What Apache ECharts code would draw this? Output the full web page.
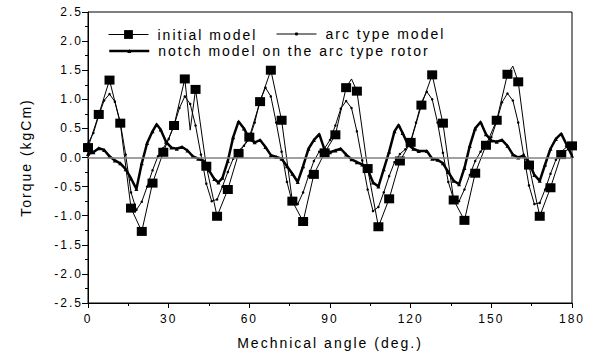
<!DOCTYPE html>
<html>
<head>
  <meta charset="utf-8" />
  <title>torque chart</title>
  <style>
    html, body { margin: 0; padding: 0; background: #fff; }
    #main { width: 598px; height: 356px; letter-spacing: 2px; }
  </style>
</head>
<body>
  <div id="main"></div>
  <script src="https://cdn.jsdelivr.net/npm/echarts@6/dist/echarts.min.js"></script>
  <script>
    var seriesNames = ['initial model', 'arc type model', 'notch model on the arc type rotor'];
    var xTicks = [0, 30, 60, 90, 120, 150, 180];

    // initial model: [angle, torque]
    var initData = [
      [0,0.17],[4,0.74],[8,1.33],[12,0.59],[16,-0.87],[20,-1.27],[24,-0.44],[28,0.09],
      [32,0.55],[36,1.35],[38,0.47],[40,1.17],[44,-0.15],[48,-1.01],[52,-0.55],[56,0.07],
      [60,0.35],[64,0.96],[68,1.50],[72,0.64],[76,-0.75],[80,-1.10],[84,-0.29],[88,0.08],
      [92,0.39],[96,1.20],[98,1.35],[100,1.14],[104,-0.19],[108,-1.19],[112,-0.71],[116,-0.06],
      [120,0.26],[124,0.90],[128,1.42],[132,0.59],[136,-0.73],[140,-1.08],[144,-0.27],[148,0.21],
      [152,0.64],[156,1.43],[158,1.57],[160,1.30],[164,-0.13],[168,-1.01],[172,-0.52],[176,0.05],
      [180,0.20]
    ];
    // points of the initial model drawn without a square
    var noMarkAt = [38, 98, 158];

    var arcData = [
      [0,0.24],[2,0.42],[4,0.72],[6,0.98],[8,1.09],[10,0.96],[12,0.6],[14,0.05],[16,-0.6],[18,-0.9],
      [20,-0.76],[22,-0.5],[24,-0.22],[26,0.02],[28,0.16],[30,0.32],
      [32,0.55],[34,0.85],[36,1.05],[38,0.92],[40,0.55],[42,0.05],[44,-0.45],[46,-0.75],[48,-0.72],
      [50,-0.5],[52,-0.25],[54,-0.02],[56,0.12],[58,0.2],[60,0.32],
      [62,0.6],[64,0.98],[66,1.2],[68,1.05],[70,0.6],[72,0.1],[74,-0.42],[76,-0.78],[78,-0.8],
      [80,-0.6],[82,-0.32],[84,-0.06],[86,0.1],[88,0.16],[90,0.3],
      [92,0.55],[94,0.84],[96,0.97],[98,0.85],[100,0.45],[102,-0.05],[104,-0.55],[106,-0.92],[108,-0.85],
      [110,-0.6],[112,-0.32],[114,-0.08],[116,0.06],[118,0.14],[120,0.28],
      [122,0.6],[124,0.95],[126,1.13],[128,1.0],[130,0.6],[132,0.08],[134,-0.42],[136,-0.72],[138,-0.75],
      [140,-0.55],[142,-0.3],[144,-0.06],[146,0.1],[148,0.2],[150,0.35],
      [152,0.62],[154,0.95],[156,1.1],[158,0.98],[160,0.6],[162,0.05],[164,-0.48],[166,-0.8],[168,-0.78],
      [170,-0.55],[172,-0.28],[174,-0.04],[176,0.1],[178,0.18],[180,0.24]
    ];

    var notchData = [
      [0,0.06],[2,0.09],[4,0.16],[6,0.13],[8,0.02],[10,-0.05],[12,-0.1],[14,-0.2],[16,-0.36],[18,-0.54],
      [20,-0.1],[22,0.25],[24,0.45],[25.5,0.57],[27,0.48],[29,0.27],[31,0.17],[33,0.15],[35,0.18],[37,0.12],
      [39,0.02],[41,-0.02],[43,-0.06],[45,-0.22],[47,-0.37],[48.5,-0.43],[50,-0.35],[52,-0.06],[54,0.35],[56,0.62],
      [58,0.5],[60,0.32],[62,0.26],[64,0.3],[66,0.18],[68,0.04],[70,0.01],[72,-0.02],[74,-0.15],[76,-0.28],
      [78,-0.42],[80,-0.15],[82,0.15],[84,0.3],[86,0.4],[88,0.13],[90,0.09],[92,0.12],[94,0.15],[96,0.05],
      [98,-0.03],[100,-0.08],[102,-0.12],[104,-0.2],[106,-0.43],[108,-0.5],[110,-0.2],[112,0.1],[114,0.45],[115.5,0.56],
      [117,0.42],[119,0.22],[121,0.15],[123,0.11],[126,0.11],[128,-0.02],[130,-0.04],[132,-0.1],[134,-0.25],[136,-0.4],
      [138,-0.46],[140,-0.18],[142,0.2],[144,0.5],[146,0.61],[148,0.4],[150,0.29],[152,0.27],[154,0.3],[156,0.2],
      [158,0.05],[160,0.0],[162,0.03],[164,-0.08],[166,-0.3],[168,-0.4],[170,-0.12],[172,0.15],[174,0.32],[176,0.41],
      [178,0.22],[180,0.03]
    ];

    var _font = 'Arial, "Liberation Sans", sans-serif';

    function buildInit(){
      var sb = [];
      for (var i = 0; i < initData.length; i++) {
        var obj = { value: initData[i] };
        if (noMarkAt.indexOf(initData[i][0]) >= 0) {
          obj.symbol = 'none';
        }
        sb.push(obj);
      }
      return sb;
    }

    // legend marker is 80% of itemHeight, so each legend gets its own height
    function legendAt(name, left, top, h, lw){
      return {
        data: [name],
        left: left,
        top: top,
        itemWidth: 40,
        itemHeight: h,
        selectedMode: false,
        lineStyle: { width: lw, color: '#000' },
        textStyle: { fontSize: 14, color: '#000', fontFamily: _font, padding: [0,0,0,4], lineHeight: 16 }
      };
    }

    var myChart = echarts.init(document.getElementById('main'), null, { renderer: 'svg' });
    var option = {
      animation: false,
      backgroundColor: '#fff',
      grid: {
        left: 88, right: 26, top: 12, bottom: 53,
        show: true, borderColor: '#000', borderWidth: 1
      },
      legend: [
        legendAt(seriesNames[0], 103, 21.5, 11, 1),
        legendAt(seriesNames[1], 271, 21, 4, 1),
        legendAt(seriesNames[2], 103, 38, 5, 2.5)
      ],
      xAxis: {
        type: 'value',
        min: 0, max: 180, interval: 30,
        name: 'Mechnical angle (deg.)',
        nameLocation: 'middle',
        nameGap: 33,
        nameTextStyle: { fontSize: 14, color: '#000', fontFamily: _font },
        axisLine: { onZero: false, lineStyle: { color: '#000', width: 1 } },
        axisTick: { length: 5, lineStyle: { color: '#000' } },
        minorTick: { show: true, splitNumber: 2, length: 3, lineStyle: { color: '#000' } },
        splitLine: { show: false },
        axisLabel: {
          margin: 10, fontSize: 12, color: '#000', fontFamily: _font,
          customValues: xTicks
        }
      },
      yAxis: {
        type: 'value',
        min: -2.5, max: 2.5, interval: 0.5,
        name: 'Torque (kgCm)',
        nameLocation: 'middle',
        nameGap: 55,
        nameTextStyle: { fontSize: 14, color: '#000', fontFamily: _font },
        axisLine: { show: true, lineStyle: { color: '#000', width: 1 } },
        axisTick: { length: 6, lineStyle: { color: '#000' } },
        minorTick: { show: true, splitNumber: 2, length: 3, lineStyle: { color: '#000' } },
        splitLine: { show: false },
        axisLabel: {
          margin: 5, fontSize: 12, color: '#000', fontFamily: _font,
          formatter: function(v){ return v.toFixed(1); }
        }
      },
      series: [
        {
          name: seriesNames[0],
          type: 'line',
          data: buildInit(),
          symbol: 'rect',
          symbolSize: [10, 9],
          showAllSymbol: true,
          itemStyle: { color: '#000' },
          lineStyle: { color: '#000', width: 1 },
          markLine: {
            silent: true,
            symbol: 'none',
            label: { show: false },
            lineStyle: { color: '#808080', width: 1.5, type: 'solid' },
            data: [{ yAxis: 0 }]
          },
          z: 3
        },
        {
          name: seriesNames[1],
          type: 'line',
          data: arcData,
          symbol: 'circle',
          symbolSize: 2.5,
          showAllSymbol: true,
          itemStyle: { color: '#000' },
          lineStyle: { color: '#000', width: 1 },
          z: 2
        },
        {
          name: seriesNames[2],
          type: 'line',
          data: notchData,
          symbol: 'triangle',
          symbolSize: 4,
          showAllSymbol: true,
          itemStyle: { color: '#000' },
          lineStyle: { color: '#000', width: 2.5 },
          z: 4
        }
      ]
    };
    myChart.setOption(option);
  </script>
</body>
</html>
